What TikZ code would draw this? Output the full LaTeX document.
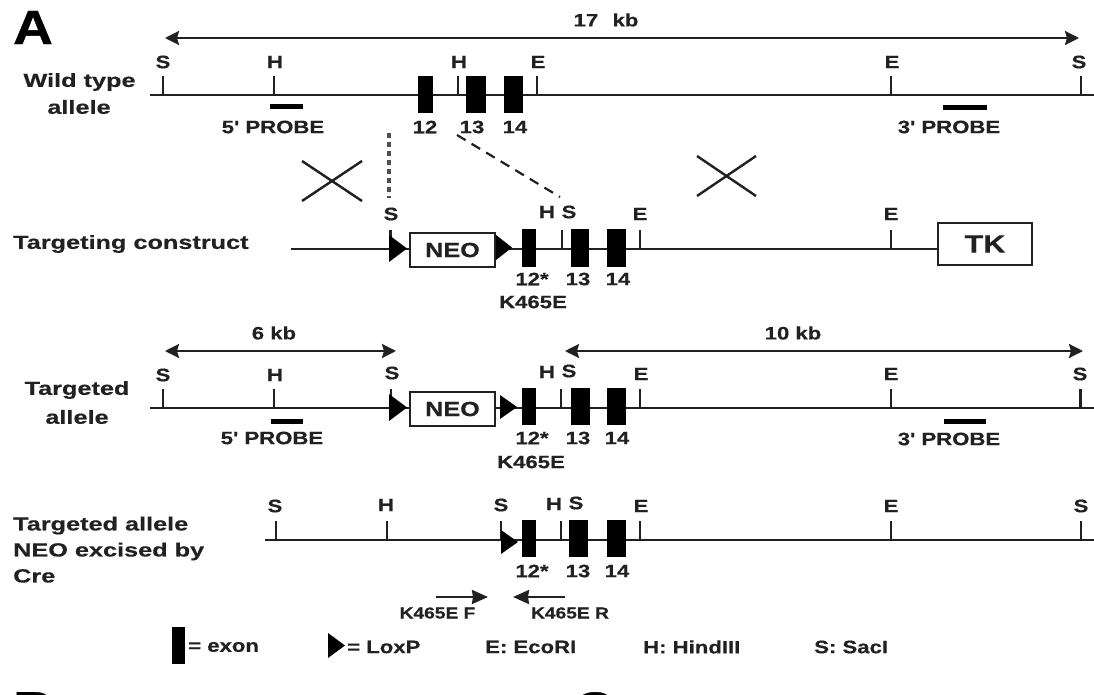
\documentclass[tikz,border=0pt]{standalone}
\usepackage{fontspec}
\setmainfont{Liberation Sans}
\newfontfamily\labf{Liberation Sans}[FakeStretch=1.23,FakeBold=0.4]
\newfontfamily\sidef{Liberation Sans}[FakeStretch=1.33,FakeBold=0.4]
\newfontfamily\smallf{Liberation Sans}[FakeStretch=1.2,FakeBold=0.4]
\newfontfamily\bigf{Liberation Sans}[FakeStretch=1.15,FakeBold=0.8]
\usetikzlibrary{arrows.meta}
\definecolor{ink}{gray}{0.13}
\tikzset{x=1pt,y=-1pt,
  lab/.style={inner sep=0pt,font=\labf\fontsize{18}{18}\selectfont\bfseries,text=ink},
  small/.style={inner sep=0pt,font=\smallf\fontsize{16}{16}\selectfont\bfseries,text=ink},
  side/.style={inner sep=0pt,font=\sidef\fontsize{19}{19}\selectfont\bfseries,text=ink},
  sidem/.style={inner sep=0pt,align=left,anchor=north west,font=\sidef\fontsize{19}{26}\selectfont\bfseries,text=ink},
  panel/.style={inner sep=0pt,font=\bigf\fontsize{48}{48}\selectfont\bfseries,text=black},
  backbone/.style={draw=ink,line width=2.6pt},
  tick/.style={draw=ink,line width=2.4pt},
  exonbar/.style={fill=black,draw=none},
  box/.style={draw=ink,line width=2.4pt,fill=white,inner sep=0pt,text=ink},
  boxneo/.style={box,minimum width=85pt,minimum height=34pt,font=\labf\fontsize{20.5}{20.5}\selectfont\bfseries},
  boxtk/.style={box,minimum width=94pt,minimum height=42pt,font=\labf\fontsize{25}{25}\selectfont\bfseries},
  loxp/.style={fill=black,draw=none},
  probe/.style={draw=black,line width=5pt},
  span/.style={draw=ink,line width=2.4pt,{Stealth[length=14pt,width=14pt,inset=2pt]}-{Stealth[length=14pt,width=14pt,inset=2pt]}},
  primer/.style={draw=ink,line width=2.4pt,-{Stealth[length=16pt,width=14pt,inset=1pt]}},
  cross/.style={draw=ink,line width=2.4pt},
  dashv/.style={draw=ink!80,line width=3.4pt,dash pattern=on 5.5pt off 3.5pt},
  dashd/.style={draw=ink,line width=2.2pt,dash pattern=on 10pt off 7pt}}
% name, letter, tick x, line y, label x, label y
\newcommand{\site}[6]{%
  \coordinate (#1b) at (#3,#4); \coordinate (#1t) at (#3,#4-19);
  \draw[tick] (#1b) -- (#1t);
  \node[lab] (#1) at (#5,#6) {#2};}
\newcommand{\exon}[4]{\fill[exonbar] (#1,#3) rectangle (#2,#4);}
\newcommand{\lox}[4]{\fill[loxp] (#1,#3) -- (#2,{(#3+#4)/2}) -- (#1,#4) -- cycle;}
\begin{document}
\begin{tikzpicture}
\useasboundingbox (0,0) rectangle (1094,695);
\node[panel] (pA) at (33,27.5) {A};
\node[panel,anchor=north west] (pB) at (13,692) {B};
\node[panel,anchor=north] (pC) at (594,692) {C};
% Row 1
\coordinate (a1) at (165,38); \coordinate (a2) at (1079,38);
\draw[span] (a1) -- (a2);
\node[lab] (kb17) at (606,20) {17\hspace{0.8em}kb};
\node[side] (wt1) at (79.5,82) {Wild type};
\node[side] (wt2) at (79,107) {allele};
\coordinate (r1a) at (150,95); \coordinate (r1b) at (1094,95);
\draw[backbone] (r1a) -- (r1b);
\site{rs1}{S}{163}{95}{163}{62}
\site{rh1}{H}{274}{95}{275}{62}
\site{rh2}{H}{458}{95}{459}{62}
\site{re1}{E}{537}{95}{538}{62}
\site{re2}{E}{891}{95}{892}{62}
\site{rs2}{S}{1081}{95}{1079}{62}
\exon{418}{433}{76}{113}\exon{466}{486}{76}{113}\exon{504}{523}{76}{113}
\node[lab] (n12) at (425,127) {12};
\node[lab] (n13) at (472,127) {13};
\node[lab] (n14) at (515,127) {14};
\coordinate (p1a) at (270,107); \coordinate (p1b) at (303,107);
\coordinate (p2a) at (943,108); \coordinate (p2b) at (987,108);
\draw[probe] (p1a) -- (p1b); \draw[probe] (p2a) -- (p2b);
\node[lab] (pr5) at (273,127) {5' PROBE};
\node[lab] (pr3) at (949,127) {3' PROBE};
% crosses
\coordinate (c1) at (302,161); \coordinate (c2) at (362,201);
\coordinate (c3) at (362,161); \coordinate (c4) at (302,201);
\draw[cross] (c1) -- (c2); \draw[cross] (c3) -- (c4);
\coordinate (c5) at (697,156); \coordinate (c6) at (756,196);
\coordinate (c7) at (756,156); \coordinate (c8) at (697,196);
\draw[cross] (c5) -- (c6); \draw[cross] (c7) -- (c8);
\coordinate (d1) at (389,133); \coordinate (d2) at (389,198);
\coordinate (d3) at (457,135); \coordinate (d4) at (560,197);
\draw[dashv] (d1) -- (d2); \draw[dashd] (d3) -- (d4);
% Row 2
\node[side,anchor=west] (tc) at (13,244) {Targeting construct};
\coordinate (t1) at (291,249); \coordinate (t2) at (937,249);
\draw[backbone] (t1) -- (t2);
\node[boxneo] (neo1) at (452.5,250) {NEO};
\node[boxtk] (tk) at (985,244) {TK};
\site{ts}{S}{390.5}{249}{391}{214}
\site{th}{H}{562}{249}{547}{212}
\node[lab] (ts2) at (569,212) {S};
\site{te1}{E}{640}{249}{640}{214}
\site{te2}{E}{891}{249}{891}{214}
\lox{389}{407}{235}{262}\lox{496}{512}{235}{260}
\exon{522}{536}{229}{267}\exon{571}{589}{229}{267}\exon{607}{626}{229}{267}
\node[lab] (t12) at (532,279) {12*};
\node[lab] (t13) at (578,279) {13};
\node[lab] (t14) at (618,279) {14};
\node[lab] (tk4) at (533,302) {K465E};
% Row 3
\coordinate (k1) at (165,351); \coordinate (k2) at (396,351);
\coordinate (k3) at (565,351); \coordinate (k4) at (1083,351);
\draw[span] (k1) -- (k2); \draw[span] (k3) -- (k4);
\node[lab] (kb6) at (274,333) {6 kb};
\node[lab] (kb10) at (793,333) {10 kb};
\node[side] (ta1) at (77,390) {Targeted};
\node[side] (ta2) at (77,417) {allele};
\coordinate (u1) at (150,408); \coordinate (u2) at (1094,408);
\draw[backbone] (u1) -- (u2);
\node[boxneo] (neo2) at (452.5,409) {NEO};
\site{us1}{S}{163}{408}{163}{375}
\site{uh1}{H}{274}{408}{275}{375}
\site{us2}{S}{391}{408}{392}{373}
\site{uh2}{H}{561}{408}{547}{372}
\node[lab] (us3) at (569,371) {S};
\site{ue1}{E}{640}{408}{641}{374}
\site{ue2}{E}{891}{408}{891}{374}
\site{us4}{S}{1080.5}{408}{1080}{374}
\lox{389}{407}{394}{421}\lox{500}{517}{395}{419}
\exon{522}{536}{388}{425}\exon{571}{590}{388}{425}\exon{607}{626}{388}{425}
\coordinate (p3a) at (271,421); \coordinate (p3b) at (303,421);
\coordinate (p4a) at (944,421); \coordinate (p4b) at (986,421);
\draw[probe] (p3a) -- (p3b); \draw[probe] (p4a) -- (p4b);
\node[lab] (pr5b) at (272,438) {5' PROBE};
\node[lab] (pr3b) at (949,439) {3' PROBE};
\node[lab] (u12) at (532,438) {12*};
\node[lab] (u13) at (578,438) {13};
\node[lab] (u14) at (617,438) {14};
\node[lab] (uk4) at (531,462) {K465E};
% Row 4
\node[sidem] (tn) at (13,516.5) {Targeted allele\\NEO excised by\\Cre};
\coordinate (v1) at (265,540); \coordinate (v2) at (1094,540);
\draw[backbone] (v1) -- (v2);
\site{vs1}{S}{276}{540}{275}{506}
\site{vh1}{H}{387}{540}{386}{505}
\site{vs2}{S}{501}{540}{501}{505}
\site{vh2}{H}{561}{540}{554}{504}
\node[lab] (vs3) at (576,503) {S};
\site{ve1}{E}{640}{540}{641}{506}
\site{ve2}{E}{891}{540}{891}{506}
\site{vs4}{S}{1081}{540}{1081}{506}
\lox{501}{518}{530}{554}
\exon{522}{536}{520}{557}\exon{569}{588}{520}{557}\exon{607}{626}{520}{557}
\node[lab] (v12) at (532,571) {12*};
\node[lab] (v13) at (578,571) {13};
\node[lab] (v14) at (617,571) {14};
\coordinate (f1) at (436,597); \coordinate (f2) at (488,597);
\coordinate (r1) at (565,597); \coordinate (r2) at (513,597);
\draw[primer] (f1) -- (f2); \draw[primer] (r1) -- (r2);
\node[small] (kf) at (437.5,613) {K465E F};
\node[small] (kr) at (570,613) {K465E R};
% Legend
\exon{172}{185}{627}{664}
\lox{328}{345}{633}{658}
\node[lab,anchor=west] (l1) at (188,647) {= exon};
\node[lab,anchor=west] (l2) at (347,647) {= LoxP};
\node[lab,anchor=west] (l3) at (485,647) {E: EcoRI};
\node[lab,anchor=west] (l4) at (643,647) {H: HindIII};
\node[lab,anchor=west] (l5) at (814,647) {S: SacI};
\end{tikzpicture}
\end{document}
